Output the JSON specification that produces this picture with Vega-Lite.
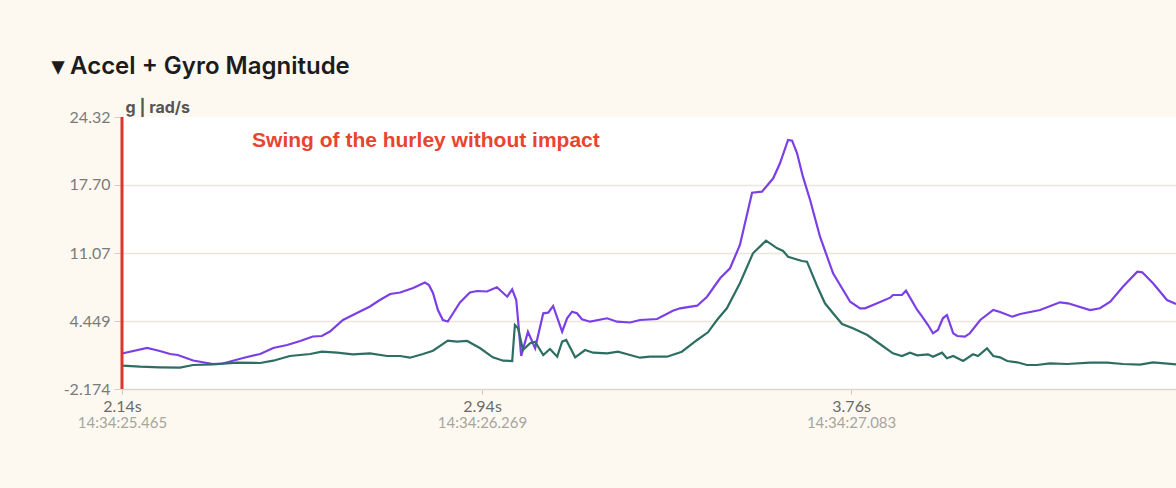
{
  "$schema": "https://vega.github.io/schema/vega-lite/v6.json",
  "width": 1054,
  "height": 272,
  "autosize": {"type": "none"},
  "padding": {"left": 122, "top": 117, "right": 0, "bottom": 99},
  "background": "#fdf9f1",
  "config": {"view": {"fill": "#ffffff", "stroke": null}},
  "title": {
    "text": "▾ Accel + Gyro Magnitude",
    "anchor": "start",
    "frame": "group",
    "font": "Inter",
    "fontSize": 24,
    "fontWeight": 600,
    "color": "#1c1c1c",
    "baseline": "alphabetic",
    "dx": -70,
    "offset": 1
  },
  "datasets": {
    "sig": [
      {"t": 2.140, "v": 1.284, "s": "gyro"},
      {"t": 2.196, "v": 1.820, "s": "gyro"},
      {"t": 2.224, "v": 1.528, "s": "gyro"},
      {"t": 2.247, "v": 1.235, "s": "gyro"},
      {"t": 2.264, "v": 1.138, "s": "gyro"},
      {"t": 2.298, "v": 0.602, "s": "gyro"},
      {"t": 2.342, "v": 0.261, "s": "gyro"},
      {"t": 2.364, "v": 0.310, "s": "gyro"},
      {"t": 2.409, "v": 0.846, "s": "gyro"},
      {"t": 2.447, "v": 1.235, "s": "gyro"},
      {"t": 2.476, "v": 1.820, "s": "gyro"},
      {"t": 2.507, "v": 2.112, "s": "gyro"},
      {"t": 2.536, "v": 2.502, "s": "gyro"},
      {"t": 2.564, "v": 2.940, "s": "gyro"},
      {"t": 2.584, "v": 2.989, "s": "gyro"},
      {"t": 2.602, "v": 3.427, "s": "gyro"},
      {"t": 2.631, "v": 4.547, "s": "gyro"},
      {"t": 2.662, "v": 5.229, "s": "gyro"},
      {"t": 2.691, "v": 5.862, "s": "gyro"},
      {"t": 2.713, "v": 6.495, "s": "gyro"},
      {"t": 2.736, "v": 7.080, "s": "gyro"},
      {"t": 2.758, "v": 7.226, "s": "gyro"},
      {"t": 2.787, "v": 7.664, "s": "gyro"},
      {"t": 2.813, "v": 8.200, "s": "gyro"},
      {"t": 2.822, "v": 7.957, "s": "gyro"},
      {"t": 2.831, "v": 7.177, "s": "gyro"},
      {"t": 2.842, "v": 5.521, "s": "gyro"},
      {"t": 2.853, "v": 4.547, "s": "gyro"},
      {"t": 2.864, "v": 4.401, "s": "gyro"},
      {"t": 2.876, "v": 5.229, "s": "gyro"},
      {"t": 2.891, "v": 6.252, "s": "gyro"},
      {"t": 2.913, "v": 7.226, "s": "gyro"},
      {"t": 2.929, "v": 7.372, "s": "gyro"},
      {"t": 2.951, "v": 7.323, "s": "gyro"},
      {"t": 2.973, "v": 7.733, "s": "gyro"},
      {"t": 2.996, "v": 6.817, "s": "gyro"},
      {"t": 3.007, "v": 7.538, "s": "gyro"},
      {"t": 3.016, "v": 6.495, "s": "gyro"},
      {"t": 3.020, "v": 4.547, "s": "gyro"},
      {"t": 3.027, "v": 1.041, "s": "gyro"},
      {"t": 3.042, "v": 3.408, "s": "gyro"},
      {"t": 3.058, "v": 1.791, "s": "gyro"},
      {"t": 3.076, "v": 5.200, "s": "gyro"},
      {"t": 3.087, "v": 5.258, "s": "gyro"},
      {"t": 3.098, "v": 5.911, "s": "gyro"},
      {"t": 3.118, "v": 3.408, "s": "gyro"},
      {"t": 3.129, "v": 4.713, "s": "gyro"},
      {"t": 3.140, "v": 5.356, "s": "gyro"},
      {"t": 3.151, "v": 5.200, "s": "gyro"},
      {"t": 3.162, "v": 4.616, "s": "gyro"},
      {"t": 3.180, "v": 4.382, "s": "gyro"},
      {"t": 3.218, "v": 4.713, "s": "gyro"},
      {"t": 3.240, "v": 4.382, "s": "gyro"},
      {"t": 3.269, "v": 4.304, "s": "gyro"},
      {"t": 3.291, "v": 4.547, "s": "gyro"},
      {"t": 3.329, "v": 4.645, "s": "gyro"},
      {"t": 3.364, "v": 5.453, "s": "gyro"},
      {"t": 3.380, "v": 5.687, "s": "gyro"},
      {"t": 3.418, "v": 5.940, "s": "gyro"},
      {"t": 3.440, "v": 6.817, "s": "gyro"},
      {"t": 3.469, "v": 8.609, "s": "gyro"},
      {"t": 3.491, "v": 9.583, "s": "gyro"},
      {"t": 3.513, "v": 11.853, "s": "gyro"},
      {"t": 3.540, "v": 16.948, "s": "gyro"},
      {"t": 3.562, "v": 17.045, "s": "gyro"},
      {"t": 3.587, "v": 18.350, "s": "gyro"},
      {"t": 3.602, "v": 19.812, "s": "gyro"},
      {"t": 3.620, "v": 22.081, "s": "gyro"},
      {"t": 3.629, "v": 22.013, "s": "gyro"},
      {"t": 3.640, "v": 20.786, "s": "gyro"},
      {"t": 3.653, "v": 18.506, "s": "gyro"},
      {"t": 3.669, "v": 16.236, "s": "gyro"},
      {"t": 3.691, "v": 12.662, "s": "gyro"},
      {"t": 3.720, "v": 9.096, "s": "gyro"},
      {"t": 3.758, "v": 6.330, "s": "gyro"},
      {"t": 3.780, "v": 5.687, "s": "gyro"},
      {"t": 3.791, "v": 5.687, "s": "gyro"},
      {"t": 3.818, "v": 6.174, "s": "gyro"},
      {"t": 3.847, "v": 6.720, "s": "gyro"},
      {"t": 3.853, "v": 6.983, "s": "gyro"},
      {"t": 3.873, "v": 6.983, "s": "gyro"},
      {"t": 3.882, "v": 7.401, "s": "gyro"},
      {"t": 3.907, "v": 5.521, "s": "gyro"},
      {"t": 3.918, "v": 4.869, "s": "gyro"},
      {"t": 3.931, "v": 4.060, "s": "gyro"},
      {"t": 3.942, "v": 3.252, "s": "gyro"},
      {"t": 3.953, "v": 3.573, "s": "gyro"},
      {"t": 3.964, "v": 4.713, "s": "gyro"},
      {"t": 3.973, "v": 5.034, "s": "gyro"},
      {"t": 3.987, "v": 3.252, "s": "gyro"},
      {"t": 3.996, "v": 2.989, "s": "gyro"},
      {"t": 4.013, "v": 2.921, "s": "gyro"},
      {"t": 4.024, "v": 3.252, "s": "gyro"},
      {"t": 4.047, "v": 4.547, "s": "gyro"},
      {"t": 4.076, "v": 5.521, "s": "gyro"},
      {"t": 4.091, "v": 5.327, "s": "gyro"},
      {"t": 4.118, "v": 4.869, "s": "gyro"},
      {"t": 4.136, "v": 5.132, "s": "gyro"},
      {"t": 4.180, "v": 5.521, "s": "gyro"},
      {"t": 4.224, "v": 6.271, "s": "gyro"},
      {"t": 4.242, "v": 6.174, "s": "gyro"},
      {"t": 4.291, "v": 5.521, "s": "gyro"},
      {"t": 4.313, "v": 5.687, "s": "gyro"},
      {"t": 4.336, "v": 6.330, "s": "gyro"},
      {"t": 4.364, "v": 7.791, "s": "gyro"},
      {"t": 4.396, "v": 9.252, "s": "gyro"},
      {"t": 4.407, "v": 9.194, "s": "gyro"},
      {"t": 4.431, "v": 8.122, "s": "gyro"},
      {"t": 4.462, "v": 6.495, "s": "gyro"},
      {"t": 4.482, "v": 6.106, "s": "gyro"},
      {"t": 2.140, "v": 0.096, "s": "accel"},
      {"t": 2.180, "v": -0.002, "s": "accel"},
      {"t": 2.224, "v": -0.060, "s": "accel"},
      {"t": 2.269, "v": -0.099, "s": "accel"},
      {"t": 2.298, "v": 0.164, "s": "accel"},
      {"t": 2.342, "v": 0.232, "s": "accel"},
      {"t": 2.396, "v": 0.388, "s": "accel"},
      {"t": 2.447, "v": 0.359, "s": "accel"},
      {"t": 2.476, "v": 0.583, "s": "accel"},
      {"t": 2.513, "v": 1.041, "s": "accel"},
      {"t": 2.558, "v": 1.235, "s": "accel"},
      {"t": 2.584, "v": 1.459, "s": "accel"},
      {"t": 2.618, "v": 1.362, "s": "accel"},
      {"t": 2.653, "v": 1.206, "s": "accel"},
      {"t": 2.691, "v": 1.304, "s": "accel"},
      {"t": 2.729, "v": 1.041, "s": "accel"},
      {"t": 2.758, "v": 1.041, "s": "accel"},
      {"t": 2.780, "v": 0.875, "s": "accel"},
      {"t": 2.809, "v": 1.235, "s": "accel"},
      {"t": 2.831, "v": 1.557, "s": "accel"},
      {"t": 2.864, "v": 2.531, "s": "accel"},
      {"t": 2.884, "v": 2.434, "s": "accel"},
      {"t": 2.907, "v": 2.502, "s": "accel"},
      {"t": 2.936, "v": 1.791, "s": "accel"},
      {"t": 2.964, "v": 0.914, "s": "accel"},
      {"t": 2.987, "v": 0.583, "s": "accel"},
      {"t": 3.007, "v": 0.553, "s": "accel"},
      {"t": 3.013, "v": 4.060, "s": "accel"},
      {"t": 3.020, "v": 3.739, "s": "accel"},
      {"t": 3.031, "v": 1.625, "s": "accel"},
      {"t": 3.047, "v": 2.278, "s": "accel"},
      {"t": 3.058, "v": 2.434, "s": "accel"},
      {"t": 3.076, "v": 1.138, "s": "accel"},
      {"t": 3.091, "v": 1.722, "s": "accel"},
      {"t": 3.107, "v": 0.972, "s": "accel"},
      {"t": 3.118, "v": 2.434, "s": "accel"},
      {"t": 3.127, "v": 2.599, "s": "accel"},
      {"t": 3.147, "v": 0.914, "s": "accel"},
      {"t": 3.169, "v": 1.625, "s": "accel"},
      {"t": 3.187, "v": 1.362, "s": "accel"},
      {"t": 3.218, "v": 1.304, "s": "accel"},
      {"t": 3.242, "v": 1.459, "s": "accel"},
      {"t": 3.269, "v": 1.138, "s": "accel"},
      {"t": 3.291, "v": 0.875, "s": "accel"},
      {"t": 3.313, "v": 0.972, "s": "accel"},
      {"t": 3.351, "v": 0.972, "s": "accel"},
      {"t": 3.384, "v": 1.459, "s": "accel"},
      {"t": 3.418, "v": 2.599, "s": "accel"},
      {"t": 3.442, "v": 3.349, "s": "accel"},
      {"t": 3.462, "v": 4.547, "s": "accel"},
      {"t": 3.484, "v": 5.687, "s": "accel"},
      {"t": 3.513, "v": 8.122, "s": "accel"},
      {"t": 3.542, "v": 11.045, "s": "accel"},
      {"t": 3.571, "v": 12.272, "s": "accel"},
      {"t": 3.596, "v": 11.532, "s": "accel"},
      {"t": 3.609, "v": 11.269, "s": "accel"},
      {"t": 3.620, "v": 10.713, "s": "accel"},
      {"t": 3.651, "v": 10.294, "s": "accel"},
      {"t": 3.662, "v": 10.226, "s": "accel"},
      {"t": 3.684, "v": 7.908, "s": "accel"},
      {"t": 3.702, "v": 6.174, "s": "accel"},
      {"t": 3.720, "v": 5.200, "s": "accel"},
      {"t": 3.740, "v": 4.158, "s": "accel"},
      {"t": 3.764, "v": 3.739, "s": "accel"},
      {"t": 3.796, "v": 3.086, "s": "accel"},
      {"t": 3.824, "v": 2.209, "s": "accel"},
      {"t": 3.853, "v": 1.304, "s": "accel"},
      {"t": 3.873, "v": 1.041, "s": "accel"},
      {"t": 3.891, "v": 1.362, "s": "accel"},
      {"t": 3.907, "v": 1.109, "s": "accel"},
      {"t": 3.931, "v": 1.206, "s": "accel"},
      {"t": 3.942, "v": 0.972, "s": "accel"},
      {"t": 3.962, "v": 1.362, "s": "accel"},
      {"t": 3.973, "v": 0.816, "s": "accel"},
      {"t": 3.987, "v": 1.041, "s": "accel"},
      {"t": 4.009, "v": 0.553, "s": "accel"},
      {"t": 4.031, "v": 1.206, "s": "accel"},
      {"t": 4.042, "v": 1.041, "s": "accel"},
      {"t": 4.062, "v": 1.791, "s": "accel"},
      {"t": 4.076, "v": 1.041, "s": "accel"},
      {"t": 4.091, "v": 0.914, "s": "accel"},
      {"t": 4.107, "v": 0.553, "s": "accel"},
      {"t": 4.129, "v": 0.427, "s": "accel"},
      {"t": 4.151, "v": 0.164, "s": "accel"},
      {"t": 4.173, "v": 0.164, "s": "accel"},
      {"t": 4.202, "v": 0.329, "s": "accel"},
      {"t": 4.240, "v": 0.261, "s": "accel"},
      {"t": 4.291, "v": 0.388, "s": "accel"},
      {"t": 4.329, "v": 0.388, "s": "accel"},
      {"t": 4.364, "v": 0.261, "s": "accel"},
      {"t": 4.402, "v": 0.193, "s": "accel"},
      {"t": 4.431, "v": 0.427, "s": "accel"},
      {"t": 4.482, "v": 0.232, "s": "accel"}
    ]
  },
  "resolve": {"axis": {"x": "independent"}},
  "layer": [
    {
      "data": {"name": "sig"},
      "mark": {"type": "line", "strokeWidth": 2.2, "interpolate": "linear"},
      "encoding": {
        "x": {
          "field": "t",
          "type": "quantitative",
          "scale": {"domain": [2.14, 4.482], "nice": false, "zero": false},
          "axis": {
            "orient": "bottom",
            "values": [2.14, 2.94, 3.76],
            "labelExpr": "format(datum.value, '.2f') + 's'",
            "title": null,
            "grid": false,
            "domainColor": "#ddd6c8",
            "domainWidth": 1.5,
            "tickColor": "#cfc8b8",
            "tickSize": 5,
            "labelPadding": 4,
            "labelFont": "Lato",
            "labelFontSize": 16,
            "labelColor": "#6b6b6b",
            "labelFlush": false
          }
        },
        "y": {
          "field": "v",
          "type": "quantitative",
          "title": "g | rad/s",
          "scale": {"domain": [-2.174, 24.32], "nice": false, "zero": false},
          "axis": {
            "values": [-2.174, 4.449, 11.07, 17.7, 24.32],
            "labelExpr": "replace(format(datum.value, '.4g'), '\u2212', '-')",
            "titleAngle": 0,
            "titleAlign": "left",
            "titleBaseline": "bottom",
            "titleX": 3,
            "titleY": -2,
            "titleFont": "Inter",
            "titleFontSize": 16,
            "titleFontWeight": 700,
            "titleColor": "#555555",
            "domain": false,
            "grid": true,
            "gridColor": {"condition": {"test": "datum.value > 24 || datum.value < -2", "value": "transparent"}, "value": "#ebe6dc"},
            "gridWidth": 1.5,
            "tickColor": "#d6d0c4",
            "tickSize": 8,
            "labelPadding": 4,
            "labelFont": "Lato",
            "labelFontSize": 16,
            "labelColor": "#7a7a7a",
            "labelFlush": false
          }
        },
        "color": {
          "field": "s",
          "type": "nominal",
          "scale": {"domain": ["accel", "gyro"], "range": ["#2e6e62", "#7b3fe6"]},
          "legend": null
        }
      }
    },
    {
      "data": {"values": [{"t": 2.14}]},
      "mark": {"type": "rule", "color": "#d9362c", "strokeWidth": 3},
      "encoding": {
        "x": {
          "field": "t",
          "type": "quantitative",
          "axis": {
            "orient": "bottom",
            "values": [2.14, 2.94, 3.76],
            "labelExpr": "datum.value < 2.5 ? '14:34:25.465' : (datum.value < 3.3 ? '14:34:26.269' : '14:34:27.083')",
            "title": null,
            "grid": false,
            "domain": false,
            "tickColor": "transparent",
            "tickSize": 5,
            "labelPadding": 21,
            "labelFont": "Lato",
            "labelFontSize": 15,
            "labelColor": "#a8a59d",
            "labelFlush": false
          }
        }
      }
    },
    {
      "data": {"values": [{"t": 2.429, "v": 21.98, "label": "Swing of the hurley without impact"}]},
      "mark": {"type": "text", "align": "left", "baseline": "middle", "font": "Liberation Sans", "fontSize": 21, "fontWeight": "bold", "color": "#e8442f"},
      "encoding": {
        "x": {"field": "t", "type": "quantitative", "axis": null},
        "y": {"field": "v", "type": "quantitative", "title": "g | rad/s"},
        "text": {"field": "label"}
      }
    }
  ]
}
